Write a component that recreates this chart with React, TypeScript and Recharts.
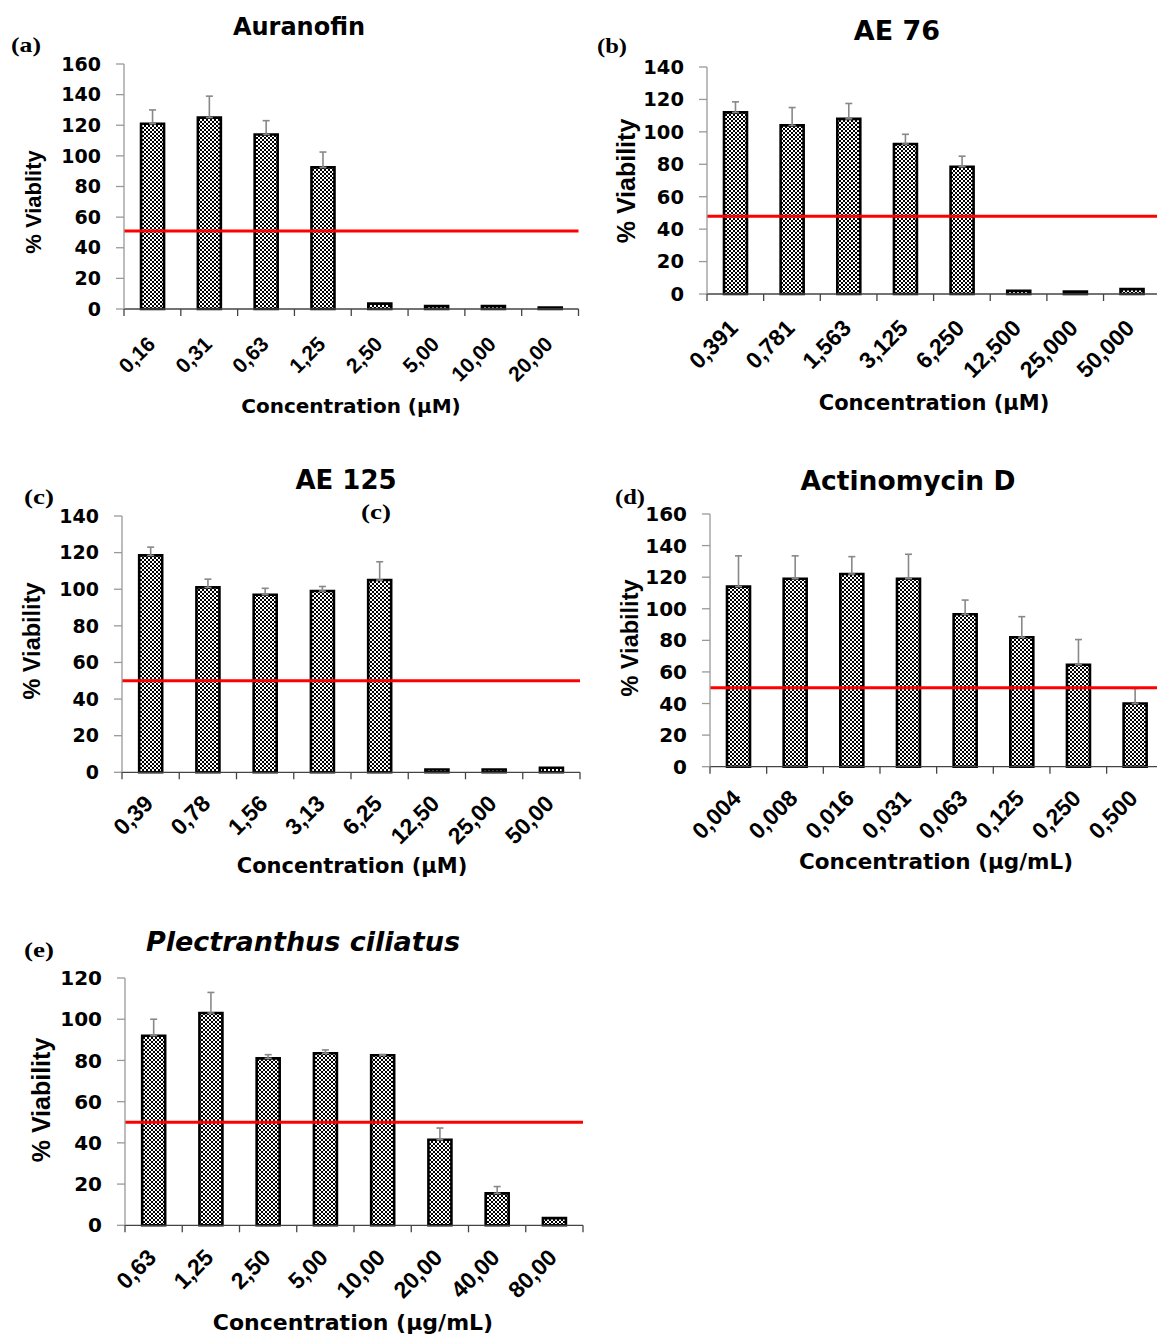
import React from "react";
import { BarChart, Bar, XAxis, YAxis, ReferenceLine, ErrorBar } from "recharts";

// (a) Auranofin
const auranofinDoses = ["0,16", "0,31", "0,63", "1,25", "2,50", "5,00", "10,00", "20,00"];
const auranofinViability = [121, 125, 114, 92.5, 3.5, 2, 2, 1];
const auranofinSd = [9, 14, 9, 10, null, null, null, null];

// (b) AE 76
const ae76Doses = ["0,391", "0,781", "1,563", "3,125", "6,250", "12,500", "25,000", "50,000"];
const ae76Viability = [112, 104, 108, 92.5, 78.5, 2, 1.5, 3];
const ae76Sd = [6.5, 11, 9.5, 6, 6.5, null, null, null];

// (c) AE 125
const ae125Doses = ["0,39", "0,78", "1,56", "3,13", "6,25", "12,50", "25,00", "50,00"];
const ae125Viability = [118.5, 101, 97, 99, 105, 1.5, 1.5, 2.5];
const ae125Sd = [4.5, 4.5, 3.5, 2.5, 10, null, null, null];

// (d) Actinomycin D
const actinoDoses = ["0,004", "0,008", "0,016", "0,031", "0,063", "0,125", "0,250", "0,500"];
const actinoViability = [114, 119, 122, 119, 96.5, 82, 64.5, 40];
const actinoSd = [19.5, 14.5, 11, 15.5, 9, 13, 16, 9.5];

// (e) Plectranthus ciliatus
const plectDoses = ["0,63", "1,25", "2,50", "5,00", "10,00", "20,00", "40,00", "80,00"];
const plectViability = [92, 103, 81, 83.5, 82.5, 41.5, 15.5, 3.5];
const plectSd = [8, 10, 1.8, 1.6, 0.4, 5.7, 3.3, null];

const ticks160 = [0, 20, 40, 60, 80, 100, 120, 140, 160];
const ticks140 = [0, 20, 40, 60, 80, 100, 120, 140];
const ticks120 = [0, 20, 40, 60, 80, 100, 120];

const WIDE = "'DejaVu Sans', sans-serif";
const ARIAL = "'Liberation Sans', Arial, sans-serif";
const SERIF = "'Liberation Serif', 'Times New Roman', serif";

const YW = 90;
const XH = 115;
const TOP = 25;

function toRows(doses: string[], vals: number[], sd: (number | null)[]) {
  return doses.map((d, i) => ({ dose: d, v: vals[i], err: sd[i] == null ? null : [0, sd[i]] }));
}

function DoseTick(props: any) {
  const { x, y, payload, index, band, count, fs, dyTop } = props;
  const ax = x + 4 - 0.502 * fs;
  const ay = y + dyTop;
  return (
    <g>
      <line x1={x - band / 2} y1={y} x2={x - band / 2} y2={y + 7} stroke="#444" strokeWidth={1.3} />
      {index === count - 1 && (
        <line x1={x + band / 2} y1={y} x2={x + band / 2} y2={y + 7} stroke="#444" strokeWidth={1.3} />
      )}
      <text
        x={ax}
        y={ay}
        dy="0.71em"
        textAnchor="end"
        transform={`rotate(-45, ${ax}, ${ay})`}
        fontFamily={ARIAL}
        fontWeight="bold"
        fontSize={fs}
        fill="#000"
      >
        {payload.value}
      </text>
    </g>
  );
}

type PanelProps = {
  rows: any[];
  plot: { l: number; r: number; t: number; b: number };
  yMax: number;
  ticks: number[];
  cutoff: number;
  yFs: number;
  xFs: number;
  dyTop: number;
};

function Panel({ rows, plot, yMax, ticks, cutoff, yFs, xFs, dyTop }: PanelProps) {
  const left = plot.l - YW;
  const top = plot.t - TOP;
  const width = plot.r + 10 - left;
  const height = plot.b + XH - top;
  const band = (plot.r - plot.l) / rows.length;
  return (
    <div style={{ position: "absolute", left, top, width, height }}>
      <BarChart
        width={width}
        height={height}
        data={rows}
        margin={{ top: TOP, right: 10, left: 0, bottom: 0 }}
        barCategoryGap="30%"
      >
        <XAxis
          dataKey="dose"
          interval={0}
          height={XH}
          tickLine={false}
          tickSize={0}
          tickMargin={0}
          axisLine={{ stroke: "#444", strokeWidth: 1.3 }}
          tick={<DoseTick band={band} count={rows.length} fs={xFs} dyTop={dyTop} />}
        />
        <YAxis
          width={YW}
          domain={[0, yMax]}
          ticks={ticks}
          interval={0}
          tickSize={8}
          tickMargin={15}
          axisLine={{ stroke: "#999", strokeWidth: 1.3 }}
          tickLine={{ stroke: "#999", strokeWidth: 1.3 }}
          tick={{ fill: "#000", fontSize: yFs, fontFamily: WIDE, fontWeight: "bold" }}
        />
        <Bar dataKey="v" fill="url(#checker)" stroke="#000" strokeWidth={2.6} isAnimationActive={false}>
          <ErrorBar dataKey="err" direction="y" width={3.5} stroke="#888" strokeWidth={1.6} />
        </Bar>
        <ReferenceLine y={cutoff} stroke="#ff0000" strokeWidth={3} />
      </BarChart>
    </div>
  );
}

const titleStyle = { fontFamily: WIDE, fontWeight: "bold" as const, fill: "#000" };
const letterStyle = { fontFamily: SERIF, fontWeight: "bold" as const, fontSize: 22, fill: "#000" };
const yLabStyle = { fontFamily: ARIAL, fontWeight: "bold" as const, fill: "#000" };

function YLabel({ x, y, fs, text }: { x: number; y: number; fs: number; text: string }) {
  return (
    <text x={x} y={y} fontSize={fs} textAnchor="middle" dominantBaseline="central" transform={`rotate(-90, ${x}, ${y})`} style={yLabStyle}>
      {text}
    </text>
  );
}

function Letter({ x, y, text }: { x: number; y: number; text: string }) {
  return (
    <text x={x} y={y} textLength={30} lengthAdjust="spacingAndGlyphs" style={letterStyle}>
      {text}
    </text>
  );
}

export default function App() {
  return (
    <div style={{ position: "absolute", left: 0, top: 0, width: 1157, height: 1338, overflow: "hidden", background: "#fff" }}>
      <svg width={0} height={0} style={{ position: "absolute" }}>
        <defs>
          <pattern id="checker" width={4} height={4} patternUnits="userSpaceOnUse">
            <rect width={4} height={4} fill="#fff" />
            <rect width={2} height={2} fill="#000" />
            <rect x={2} y={2} width={2} height={2} fill="#000" />
          </pattern>
        </defs>
      </svg>

      <Panel rows={toRows(auranofinDoses, auranofinViability, auranofinSd)} plot={{ l: 123.5, r: 578, t: 64.3, b: 309.3 }} yMax={160} ticks={ticks160} cutoff={51} yFs={19} xFs={21} dyTop={26} />
      <Panel rows={toRows(ae76Doses, ae76Viability, ae76Sd)} plot={{ l: 706.8, r: 1160, t: 67.3, b: 294.3 }} yMax={140} ticks={ticks140} cutoff={48} yFs={19.5} xFs={23} dyTop={24} />
      <Panel rows={toRows(ae125Doses, ae125Viability, ae125Sd)} plot={{ l: 122, r: 580, t: 516, b: 772.3 }} yMax={140} ticks={ticks140} cutoff={50} yFs={19} xFs={23} dyTop={21} />
      <Panel rows={toRows(actinoDoses, actinoViability, actinoSd)} plot={{ l: 709.7, r: 1163, t: 514, b: 766.7 }} yMax={160} ticks={ticks160} cutoff={50} yFs={20} xFs={23} dyTop={21.5} />
      <Panel rows={toRows(plectDoses, plectViability, plectSd)} plot={{ l: 125, r: 583, t: 977.7, b: 1225 }} yMax={120} ticks={ticks120} cutoff={50} yFs={20} xFs={23} dyTop={22} />

      <svg width={1157} height={1338} style={{ position: "absolute", left: 0, top: 0, pointerEvents: "none" }}>
        <text x={299} y={35} fontSize={24} textAnchor="middle" style={titleStyle}>Auranofin</text>
        <text x={897} y={40} fontSize={27} textAnchor="middle" style={titleStyle}>AE 76</text>
        <text x={346} y={489} fontSize={26} textAnchor="middle" style={titleStyle}>AE 125</text>
        <text x={908} y={490} fontSize={26.5} textAnchor="middle" style={titleStyle}>Actinomycin D</text>
        <text x={303} y={951} fontSize={27} textAnchor="middle" fontStyle="italic" style={titleStyle}>Plectranthus ciliatus</text>

        <Letter x={11} y={52} text="(a)" />
        <Letter x={597} y={53} text="(b)" />
        <Letter x={24} y={504} text="(c)" />
        <Letter x={361} y={519} text="(c)" />
        <Letter x={615} y={504} text="(d)" />
        <Letter x={24} y={957} text="(e)" />

        <YLabel x={33} y={202} fs={22} text="% Viablity" />
        <YLabel x={626} y={181} fs={25} text="% Viability" />
        <YLabel x={32} y={641} fs={23.5} text="% Viability" />
        <YLabel x={630} y={638} fs={23.5} text="% Viability" />
        <YLabel x={41} y={1100} fs={25} text="% Viability" />

        <text x={351} y={413} fontSize={20} textAnchor="middle" style={titleStyle}>Concentration (µM)</text>
        <text x={934} y={410} fontSize={21} textAnchor="middle" style={titleStyle}>Concentration (µM)</text>
        <text x={352} y={873} fontSize={21} textAnchor="middle" style={titleStyle}>Concentration (µM)</text>
        <text x={936} y={869} fontSize={21.5} textAnchor="middle" style={titleStyle}>Concentration (µg/mL)</text>
        <text x={353} y={1330} fontSize={22} textAnchor="middle" style={titleStyle}>Concentration (µg/mL)</text>
      </svg>
    </div>
  );
}
